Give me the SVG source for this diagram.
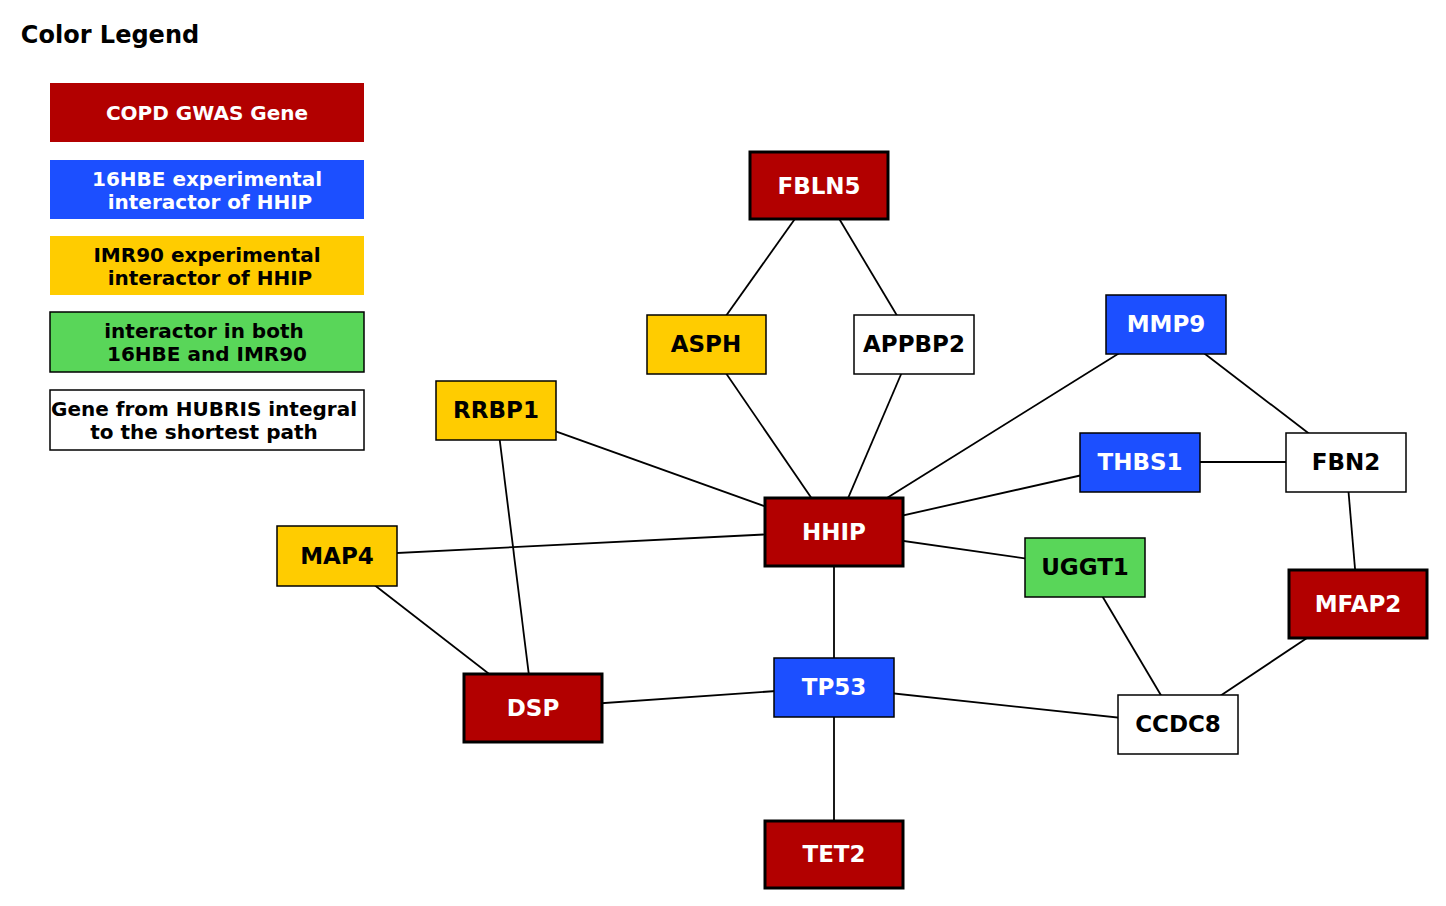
<svg xmlns="http://www.w3.org/2000/svg" width="1446" height="906" viewBox="0 0 1446 906">
<style>
text{font-family:"DejaVu Sans","Liberation Sans",sans-serif;font-weight:bold;text-anchor:middle}
.n{font-size:23px}
.lg{font-size:20px}
.w{fill:#ffffff}
.k{fill:#000000}
.red{fill:#b20000;stroke:#000;stroke-width:3}
.blue{fill:#1c4fff;stroke:#000;stroke-width:1.5}
.yel{fill:#ffcc00;stroke:#000;stroke-width:1.5}
.grn{fill:#59d659;stroke:#000;stroke-width:1.5}
.wht{fill:#ffffff;stroke:#000;stroke-width:1.5}
#edges line{stroke:#000;stroke-width:1.8}
</style>
<rect width="1446" height="906" fill="#ffffff"/>
<g id="legend">
<text x="110" y="43" style="font-size:24px">Color Legend</text>
<rect x="50" y="83" width="314" height="59" fill="#b20000"/>
<text class="lg w" x="207" y="120">COPD GWAS Gene</text>
<rect x="50" y="160" width="314" height="59" fill="#1c4fff"/>
<text class="lg w" x="207" y="186">16HBE experimental</text>
<text class="lg w" x="210" y="209">interactor of HHIP</text>
<rect x="50" y="236" width="314" height="59" fill="#ffcc00"/>
<text class="lg k" x="207" y="262">IMR90 experimental</text>
<text class="lg k" x="210" y="285">interactor of HHIP</text>
<rect x="50" y="312" width="314" height="60" class="grn"/>
<text class="lg k" x="204" y="338">interactor in both</text>
<text class="lg k" x="207" y="361">16HBE and IMR90</text>
<rect x="50" y="390" width="314" height="60" class="wht"/>
<text class="lg k" x="204" y="416">Gene from HUBRIS integral</text>
<text class="lg k" x="204" y="439">to the shortest path</text>
</g>
<g id="edges">
<line x1="819" y1="185" x2="706" y2="344"/>
<line x1="819" y1="185" x2="914" y2="344"/>
<line x1="706" y1="344" x2="834" y2="531"/>
<line x1="914" y1="344" x2="834" y2="531"/>
<line x1="1166" y1="324" x2="834" y2="531"/>
<line x1="1166" y1="324" x2="1346" y2="462"/>
<line x1="496" y1="410" x2="834" y2="531"/>
<line x1="496" y1="410" x2="533" y2="708"/>
<line x1="1140" y1="462" x2="834" y2="531"/>
<line x1="1140" y1="462" x2="1346" y2="462"/>
<line x1="1346" y1="462" x2="1358" y2="604"/>
<line x1="337" y1="556" x2="834" y2="531"/>
<line x1="337" y1="556" x2="533" y2="708"/>
<line x1="834" y1="531" x2="1085" y2="567"/>
<line x1="834" y1="531" x2="834" y2="687"/>
<line x1="1085" y1="567" x2="1178" y2="724"/>
<line x1="1358" y1="604" x2="1178" y2="724"/>
<line x1="533" y1="708" x2="834" y2="687"/>
<line x1="834" y1="687" x2="1178" y2="724"/>
<line x1="834" y1="687" x2="834" y2="854"/>
</g>
<g id="FBLN5"><rect class="red" x="750" y="152" width="138" height="67"/><text class="n w" x="819" y="194">FBLN5</text></g>
<g id="ASPH"><rect class="yel" x="647" y="315" width="119" height="59"/><text class="n k" x="706" y="352">ASPH</text></g>
<g id="APPBP2"><rect class="wht" x="854" y="315" width="120" height="59"/><text class="n k" x="914" y="352">APPBP2</text></g>
<g id="MMP9"><rect class="blue" x="1106" y="295" width="120" height="59"/><text class="n w" x="1166" y="332">MMP9</text></g>
<g id="RRBP1"><rect class="yel" x="436" y="381" width="120" height="59"/><text class="n k" x="496" y="418">RRBP1</text></g>
<g id="THBS1"><rect class="blue" x="1080" y="433" width="120" height="59"/><text class="n w" x="1140" y="470">THBS1</text></g>
<g id="FBN2"><rect class="wht" x="1286" y="433" width="120" height="59"/><text class="n k" x="1346" y="470">FBN2</text></g>
<g id="HHIP"><rect class="red" x="765" y="498" width="138" height="68"/><text class="n w" x="834" y="540">HHIP</text></g>
<g id="MAP4"><rect class="yel" x="277" y="526" width="120" height="60"/><text class="n k" x="337" y="564">MAP4</text></g>
<g id="UGGT1"><rect class="grn" x="1025" y="538" width="120" height="59"/><text class="n k" x="1085" y="575">UGGT1</text></g>
<g id="MFAP2"><rect class="red" x="1289" y="570" width="138" height="68"/><text class="n w" x="1358" y="612">MFAP2</text></g>
<g id="DSP"><rect class="red" x="464" y="674" width="138" height="68"/><text class="n w" x="533" y="716">DSP</text></g>
<g id="TP53"><rect class="blue" x="774" y="658" width="120" height="59"/><text class="n w" x="834" y="695">TP53</text></g>
<g id="CCDC8"><rect class="wht" x="1118" y="695" width="120" height="59"/><text class="n k" x="1178" y="732">CCDC8</text></g>
<g id="TET2"><rect class="red" x="765" y="821" width="138" height="67"/><text class="n w" x="834" y="862">TET2</text></g>
</svg>
